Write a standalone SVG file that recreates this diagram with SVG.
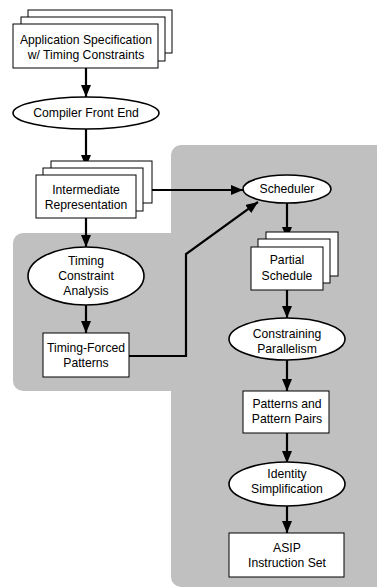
<svg xmlns="http://www.w3.org/2000/svg" width="377" height="588" viewBox="0 0 377 588">
  <style>
    .box { fill: #ffffff; stroke: #000000; stroke-width: 1; }
    .oval { fill: #ffffff; stroke: #000000; stroke-width: 1.6; }
    .lbl { font-family: "Liberation Sans", Arial, sans-serif; font-size: 12.2px; fill: #000000; text-anchor: middle; }
    .wire { fill: none; stroke: #000000; stroke-width: 2.2; stroke-linejoin: miter; }
  </style>
  <defs>
    <marker id="arrow" markerUnits="userSpaceOnUse" markerWidth="12" markerHeight="10" viewBox="0 0 12 10" refX="12" refY="5" orient="auto">
      <path d="M0,0 L12,5 L0,10 Z" fill="#000000"/>
    </marker>
  </defs>

  <rect width="377" height="588" fill="#ffffff"/>

  <!-- shaded scheduling region -->
  <path id="region" d="M181,145 L377,145 L377,587 L181,587 A10,10 0 0 1 171,577 L171,391 L23,391 A10,10 0 0 1 13,381 L13,243 A10,10 0 0 1 23,233 L171,233 L171,155 A10,10 0 0 1 181,145 Z" fill="#c0c0c0"/>

  <!-- connectors -->
  <g id="connectors">
    <line class="wire" x1="86" y1="68" x2="86" y2="97" marker-end="url(#arrow)"/>
    <line class="wire" x1="86" y1="129" x2="86" y2="167" marker-end="url(#arrow)"/>
    <line class="wire" x1="86" y1="218" x2="86" y2="247" marker-end="url(#arrow)"/>
    <line class="wire" x1="86" y1="305" x2="86" y2="333" marker-end="url(#arrow)"/>
    <line class="wire" x1="143" y1="190" x2="243" y2="190" marker-end="url(#arrow)"/>
    <polyline class="wire" points="129,356 186,356 186,254 258,202" marker-end="url(#arrow)"/>
    <line class="wire" x1="287" y1="203" x2="287" y2="239" marker-end="url(#arrow)"/>
    <line class="wire" x1="287" y1="290" x2="287" y2="318" marker-end="url(#arrow)"/>
    <line class="wire" x1="287" y1="360" x2="287" y2="391" marker-end="url(#arrow)"/>
    <line class="wire" x1="287" y1="433" x2="287" y2="463" marker-end="url(#arrow)"/>
    <line class="wire" x1="287" y1="506" x2="287" y2="533" marker-end="url(#arrow)"/>
  </g>

  <!-- source documents -->
  <g id="app-spec">
    <rect class="box" x="28" y="10" width="144" height="43"/>
    <rect class="box" x="21" y="17" width="144" height="44"/>
    <rect class="box" x="13" y="24" width="145" height="44"/>
    <text class="lbl" x="86" y="44">Application Specification</text>
    <text class="lbl" x="86" y="59">w/ Timing Constraints</text>
  </g>

  <g id="front-end">
    <ellipse class="oval" cx="86" cy="113" rx="73" ry="16"/>
    <text class="lbl" x="86" y="117">Compiler Front End</text>
  </g>

  <g id="intermediate">
    <rect class="box" x="51" y="161" width="101" height="42"/>
    <rect class="box" x="43" y="168" width="100" height="43"/>
    <rect class="box" x="36" y="175" width="100" height="43"/>
    <text class="lbl" x="86" y="194">Intermediate</text>
    <text class="lbl" x="86" y="209">Representation</text>
  </g>

  <g id="timing-analysis">
    <ellipse class="oval" cx="86" cy="276" rx="58" ry="29"/>
    <text class="lbl" x="86" y="265">Timing</text>
    <text class="lbl" x="86" y="280">Constraint</text>
    <text class="lbl" x="86" y="295">Analysis</text>
  </g>

  <g id="timing-forced">
    <rect class="box" x="43" y="333" width="86" height="44"/>
    <text class="lbl" x="86" y="352">Timing-Forced</text>
    <text class="lbl" x="86" y="367">Patterns</text>
  </g>

  <g id="scheduler">
    <ellipse class="oval" cx="287" cy="189" rx="44" ry="14"/>
    <text class="lbl" x="287" y="193">Scheduler</text>
  </g>

  <g id="partial-schedule">
    <rect class="box" x="266" y="232" width="72" height="44"/>
    <rect class="box" x="258" y="239" width="72" height="44"/>
    <rect class="box" x="251" y="247" width="72" height="43"/>
    <text class="lbl" x="287" y="264">Partial</text>
    <text class="lbl" x="287" y="280">Schedule</text>
  </g>

  <g id="constraining">
    <ellipse class="oval" cx="287" cy="339" rx="58" ry="21"/>
    <text class="lbl" x="287" y="338">Constraining</text>
    <text class="lbl" x="287" y="353">Parallelism</text>
  </g>

  <g id="pattern-pairs">
    <rect class="box" x="243" y="391" width="86" height="42"/>
    <text class="lbl" x="287" y="408">Patterns and</text>
    <text class="lbl" x="287" y="423">Pattern Pairs</text>
  </g>

  <g id="identity">
    <ellipse class="oval" cx="287" cy="484" rx="58" ry="22"/>
    <text class="lbl" x="287" y="478">Identity</text>
    <text class="lbl" x="287" y="493">Simplification</text>
  </g>

  <g id="asip">
    <rect class="box" x="229" y="533" width="115" height="44"/>
    <text class="lbl" x="287" y="552">ASIP</text>
    <text class="lbl" x="287" y="567">Instruction Set</text>
  </g>
</svg>
